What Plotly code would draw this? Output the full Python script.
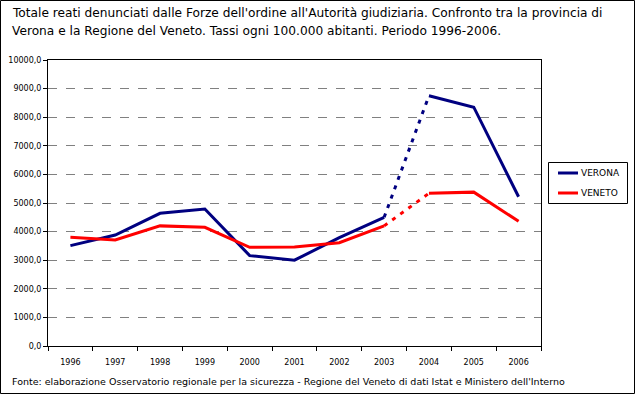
import plotly.graph_objects as go

years = ['1996', '1997', '1998', '1999', '2000', '2001', '2002', '2003', '2004', '2005', '2006']
verona = [3510, 3880, 4640, 4790, 3160, 3000, 3790, 4500, 8750, 8350, 5220]
veneto = [3800, 3710, 4200, 4150, 3450, 3460, 3610, 4200, 5340, 5380, 4360]

title_line1 = "Totale reati denunciati dalle Forze dell'ordine all'Autorità giudiziaria. Confronto tra la provincia di"
title_line2 = "Verona e la Regione del Veneto. Tassi ogni 100.000 abitanti. Periodo 1996-2006."
source = "Fonte: elaborazione Osservatorio regionale per la sicurezza - Regione del Veneto di dati Istat e Ministero dell'Interno"

series = [("VERONA", verona, "#000080"), ("VENETO", veneto, "#FF0000")]
BREAK = 7  # dashed segment between 2003 and 2004

fig = go.Figure()
for name, vals, col in series:
    fig.add_trace(go.Scatter(x=years[:BREAK + 1], y=vals[:BREAK + 1], mode="lines", name=name,
                             line=dict(color=col, width=3)))
    fig.add_trace(go.Scatter(x=years[BREAK:BREAK + 2], y=vals[BREAK:BREAK + 2], mode="lines", name=name,
                             line=dict(color=col, width=3, dash="4px,6px")))
    fig.add_trace(go.Scatter(x=years[BREAK + 1:], y=vals[BREAK + 1:], mode="lines", name=name,
                             line=dict(color=col, width=3)))

W, H = 635, 394
L, R, T, B = 48, 94, 60, 48
pw, ph = W - L - R, H - T - B

def px(x):
    return (x - L) / pw

def py(y):
    return (H - B - y) / ph

annotations = [
    dict(text=title_line1, x=px(10), y=py(13), xref="paper", yref="paper",
         xanchor="left", yanchor="middle", showarrow=False, font=dict(size=12.2)),
    dict(text=title_line2, x=px(10), y=py(31), xref="paper", yref="paper",
         xanchor="left", yanchor="middle", showarrow=False, font=dict(size=12.2)),
    dict(text=source, x=px(10), y=py(381), xref="paper", yref="paper",
         xanchor="left", yanchor="middle", showarrow=False, font=dict(size=9.5)),
]
shapes = [
    dict(type="rect", xref="paper", yref="paper", x0=px(0.5), x1=px(634.5),
         y0=py(0.5), y1=py(393.5), line=dict(color="black", width=1), layer="above"),
    # legend box
    dict(type="rect", xref="paper", yref="paper", x0=px(548.5), x1=px(627.5),
         y0=py(162.5), y1=py(203.5), line=dict(color="black", width=1),
         fillcolor="white", layer="above"),
]
for i, (name, vals, col) in enumerate(series):
    ly = 173 + 20 * i
    shapes.append(dict(type="line", xref="paper", yref="paper", x0=px(558), x1=px(578),
                       y0=py(ly), y1=py(ly), line=dict(color=col, width=3), layer="above"))
    annotations.append(dict(text=name, x=px(579), y=py(ly), xref="paper", yref="paper",
                            xanchor="left", yanchor="middle", showarrow=False,
                            font=dict(size=9)))

fig.update_layout(
    width=W, height=H,
    margin=dict(l=L, r=R, t=T, b=B, autoexpand=False),
    paper_bgcolor="white", plot_bgcolor="white",
    separators=",.",
    font=dict(family="DejaVu Sans", size=8, color="black"),
    showlegend=False,
    xaxis=dict(type="category", range=[-0.5, 10.5], showline=True, mirror=True,
               linecolor="black", linewidth=1, ticks="outside", tickson="boundaries",
               ticklen=4, tickcolor="black", showgrid=False, fixedrange=True,
               ticklabelstandoff=8, tickfont=dict(size=8)),
    yaxis=dict(range=[0, 10000], dtick=1000, tickformat=".1f", showline=True, mirror=True,
               linecolor="black", linewidth=1, ticks="outside", ticklen=4, tickcolor="black",
               showgrid=True, gridcolor="#808080", griddash="dash", gridwidth=1,
               zeroline=False, fixedrange=True, tickfont=dict(size=8)),
    annotations=annotations,
    shapes=shapes,
)

fig.write_html(
    "out.html",
    config={"displayModeBar": False},
    post_script="document.body.style.margin='0';document.body.style.overflow='hidden';",
)
